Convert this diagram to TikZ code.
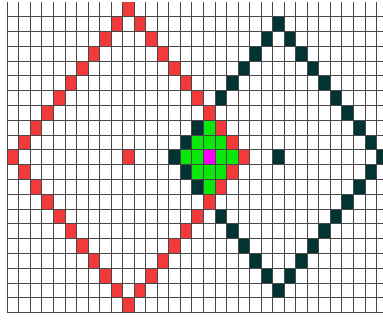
\documentclass[tikz,border=0pt]{standalone}
\usepackage{tikz}
\usepackage{xcolor}
\definecolor{diamondred}{RGB}{242,58,58}
\definecolor{diamonddark}{RGB}{3,52,52}
\definecolor{overlapgreen}{RGB}{10,232,10}
\definecolor{peakmagenta}{RGB}{250,0,250}
\begin{document}
\begin{tikzpicture}[x=11.54pt,y=-14.8pt,
  redcell/.style={fill=diamondred},
  darkcell/.style={fill=diamonddark},
  greencell/.style={fill=overlapgreen},
  magentacell/.style={fill=peakmagenta},
  gridline/.style={draw=black!72,line width=0.9pt}]
\clip (-0.633,-0.128) rectangle (32.56,21.49);
\fill[white] (-0.633,-0.128) rectangle (32.56,21.49);
% overlap of the two diamonds
\foreach \c/\r in {17/8,16/9,17/9,18/9,15/10,16/10,18/10,19/10,16/11,17/11,18/11,17/12}
  \fill[greencell] (\c,\r) rectangle ++(1,1);
\fill[magentacell] (17,10) rectangle ++(1,1);
% dark diamond, centre (23,10), radius 9
\foreach \d in {0,...,9}{
  \pgfmathtruncatemacro{\e}{9-\d}
  \fill[darkcell] (23+\d,10-\e) rectangle ++(1,1);
  \fill[darkcell] (23-\d,10-\e) rectangle ++(1,1);
  \fill[darkcell] (23+\d,10+\e) rectangle ++(1,1);
  \fill[darkcell] (23-\d,10+\e) rectangle ++(1,1);
}
\fill[darkcell] (23,10) rectangle ++(1,1);
% red diamond, centre (10,10), radius 10
\foreach \d in {0,...,10}{
  \pgfmathtruncatemacro{\e}{10-\d}
  \fill[redcell] (10+\d,10-\e) rectangle ++(1,1);
  \fill[redcell] (10-\d,10-\e) rectangle ++(1,1);
  \fill[redcell] (10+\d,10+\e) rectangle ++(1,1);
  \fill[redcell] (10-\d,10+\e) rectangle ++(1,1);
}
\fill[redcell] (10,10) rectangle ++(1,1);
% grid
\foreach \c in {0,...,33}
  \draw[gridline] (\c,0) -- (\c,21.05);
\foreach \r in {1,...,21}
  \draw[gridline] (0,\r) -- (33,\r);
\end{tikzpicture}
\end{document}
